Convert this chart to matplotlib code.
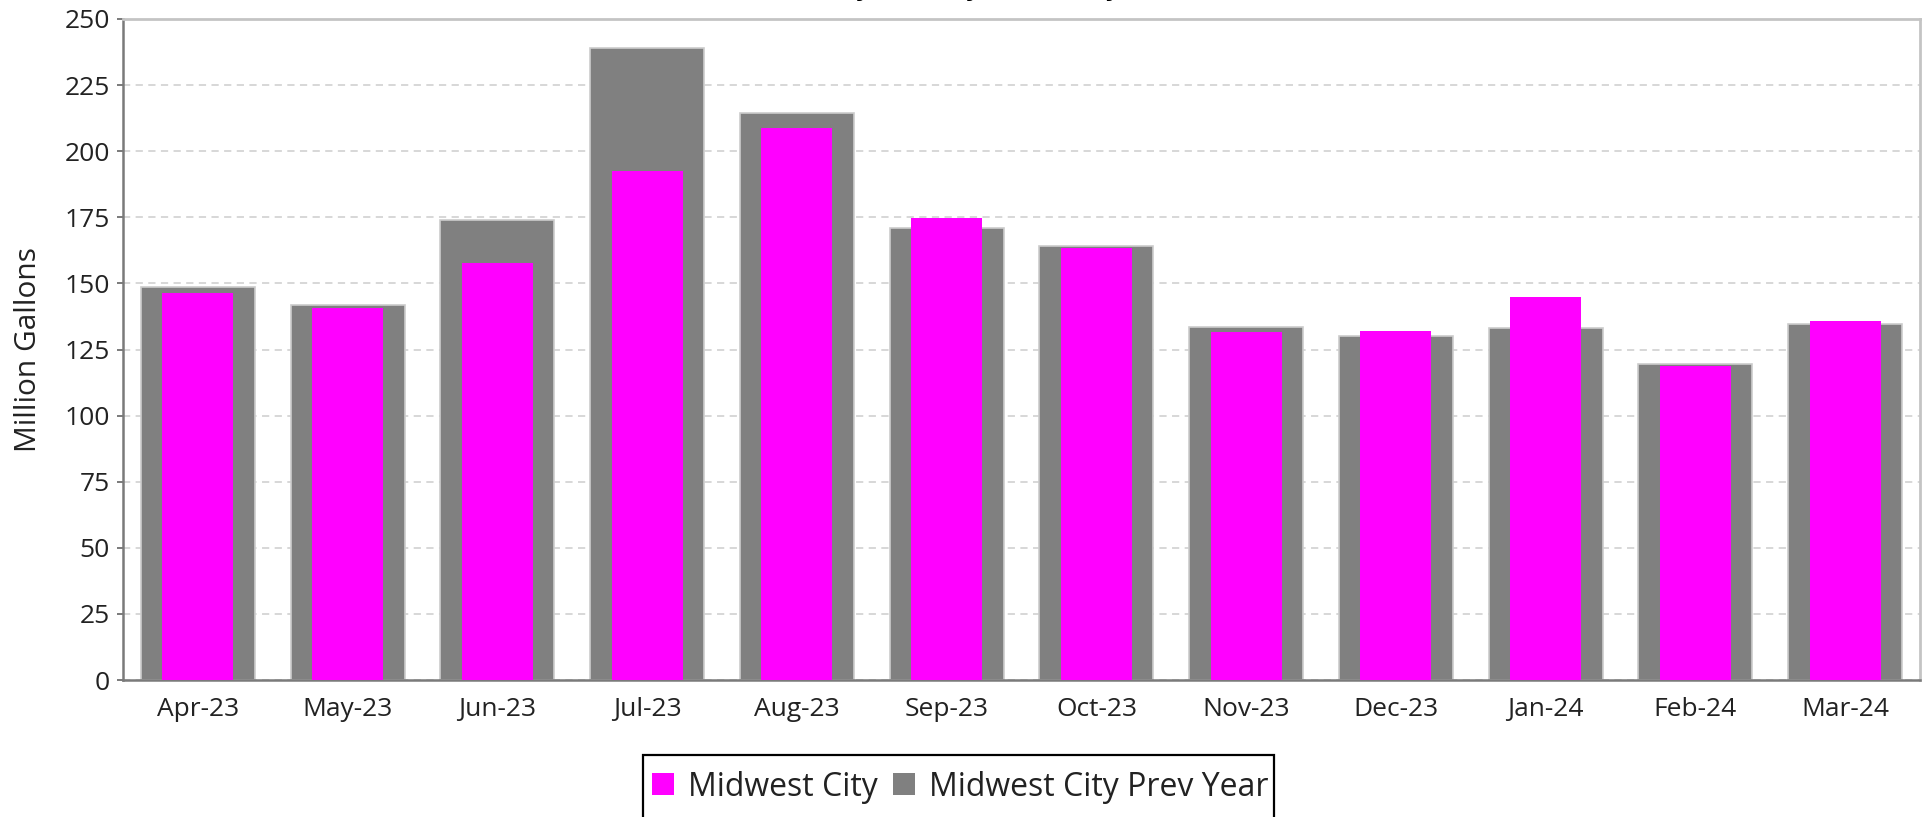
import matplotlib
matplotlib.use("Agg")
import matplotlib.pyplot as plt
import matplotlib.patches as mpatches
from matplotlib.font_manager import FontProperties
import numpy as np

months = ["Apr-23", "May-23", "Jun-23", "Jul-23", "Aug-23", "Sep-23",
          "Oct-23", "Nov-23", "Dec-23", "Jan-24", "Feb-24", "Mar-24"]
current_year = [146.5, 140.8, 157.9, 192.4, 208.7, 174.6,
                163.5, 131.5, 132.0, 144.8, 118.7, 135.7]
prev_year = [148.5, 142.0, 173.9, 239.0, 214.4, 170.9,
             164.0, 133.4, 130.1, 133.0, 119.6, 134.5]
yticks = [0, 25, 50, 75, 100, 125, 150, 175, 200, 225, 250]
series_names = ["Midwest City", "Midwest City Prev Year"]
title_text = "Midwest City Monthly Volume by Year"

PINK = "#FF00FF"
GRAY = "#808080"

plt.rcParams['font.family'] = ['Open Sans', 'DejaVu Sans']

W, H = 1923, 817
fig = plt.figure(figsize=(W / 100, H / 100), dpi=100)
fig.patch.set_facecolor("white")

ax = fig.add_axes([123 / W, 1 - 680 / H, (1920 - 123) / W, (680 - 19) / H])

x = np.arange(len(months))
ax.bar(x, prev_year, width=0.76, color=GRAY, edgecolor="#cccccc",
       linewidth=1.2, zorder=2)
ax.bar(x, current_year, width=0.475, color=PINK, linewidth=0, zorder=3)

ax.set_xlim(-0.5, len(months) - 0.5)
ax.set_ylim(0, 250)
ax.set_yticks(yticks)
ax.set_xticks(x)
ax.set_xticklabels(months)

ax.set_axisbelow(True)
ax.yaxis.grid(True, linestyle=(0, (4, 3)), color="#d4d4d4", linewidth=1.3)
ax.xaxis.grid(False)

for side in ["top", "right"]:
    ax.spines[side].set_color("#c4c4c4")
    ax.spines[side].set_linewidth(2)
for side in ["left", "bottom"]:
    ax.spines[side].set_color("#7a7a7a")
    ax.spines[side].set_linewidth(1.8)

ax.tick_params(axis="y", length=4.5, width=1.4, color="#7a7a7a",
               labelsize=19, labelcolor="#222222", pad=5)
ax.tick_params(axis="x", length=0, labelsize=19, labelcolor="#222222", pad=12)

ax.set_ylabel("Million Gallons", fontsize=21.5, color="#222222")
ax.yaxis.label.set_va("center")
ax.yaxis.set_label_coords((29 - 123) / (1920 - 123), 0.5)

# legend content (frame drawn separately; it runs off the bottom edge)
handles = [mpatches.Patch(facecolor=PINK, edgecolor="none"),
           mpatches.Patch(facecolor=GRAY, edgecolor="none")]
leg = fig.legend(handles, series_names, loc="center left",
                 bbox_to_anchor=(652 / W, 1 - 787 / H), ncol=2,
                 fontsize=23, handlelength=0.69, handleheight=0.69,
                 handletextpad=0.44, columnspacing=0.47, borderpad=0,
                 borderaxespad=0, frameon=False)
for t in leg.get_texts():
    t.set_color("#222222")
frame = mpatches.Rectangle((643 / W, -20 / H), (1274 - 643) / W,
                           (817 - 755 + 20) / H, transform=fig.transFigure,
                           facecolor="none", edgecolor="black", linewidth=1.6)
fig.add_artist(frame)

# title sits mostly above the canvas (cut off in the reference)
fig.canvas.draw()
renderer = fig.canvas.get_renderer()
base = 20.0
fp = FontProperties(family="DejaVu Sans", weight="bold", size=base)
def tw(s):
    return renderer.get_text_width_height_descent(s, fp, ismath=False)[0]
ypos = [i for i, c in enumerate(title_text) if c == "y"]
wy = tw("y")
centers = [tw(title_text[:i]) + wy / 2 for i in ypos]
scale = (1113 - 863) / (centers[-1] - centers[0])
title_size = base * scale
x0 = 863 - centers[0] * scale
fig.text(x0 / W, 1 + 2.6 / H, title_text, ha="left", va="baseline",
         fontsize=title_size, fontweight="bold", family="DejaVu Sans",
         color="black")

fig.savefig("out.png", dpi=100, facecolor="white")
